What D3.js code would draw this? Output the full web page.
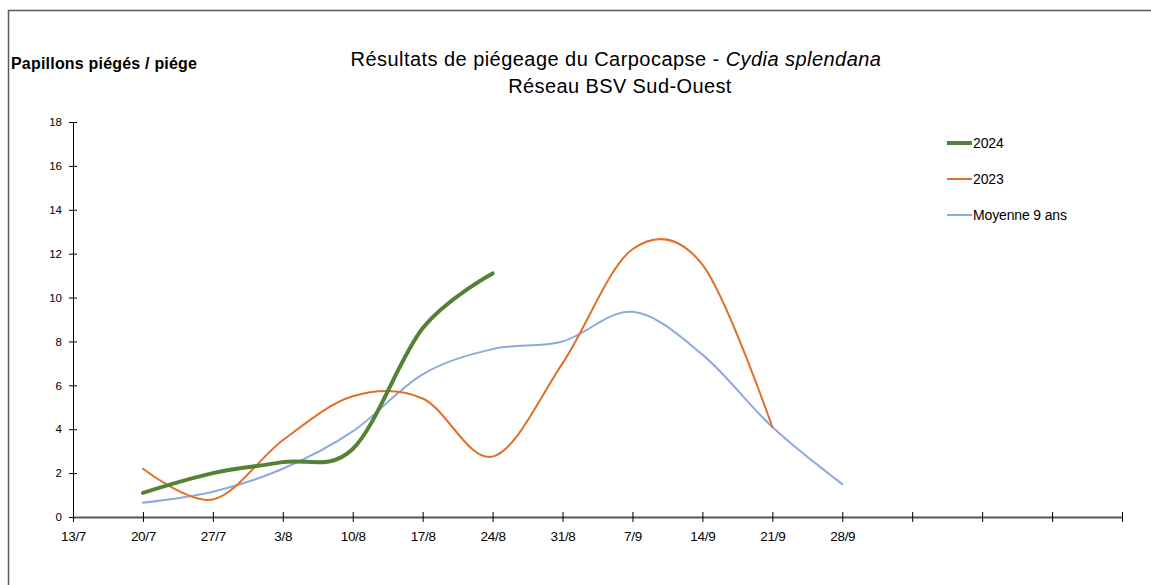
<!DOCTYPE html>
<html><head><meta charset="utf-8">
<script src="https://cdn.jsdelivr.net/npm/d3@7"></script>
<style>body{margin:0;background:#fff}svg{display:block;font-family:"Liberation Sans",Arial,sans-serif}</style>
</head><body>
<svg id="c" width="1151" height="585"></svg>
<script>
const categories = ["13/7","20/7","27/7","3/8","10/8","17/8","24/8","31/8","7/9","14/9","21/9","28/9","","","",""];
const s2024 = [null,1.1,2.0,2.5,3.1,8.6,11.1,null,null,null,null,null,null,null,null,null];
const s2023 = [null,2.2,0.8,3.5,5.5,5.4,2.75,7.0,12.2,11.5,4.1,null,null,null,null,null];
const sMoy  = [null,0.65,1.15,2.2,3.9,6.5,7.65,8.0,9.35,7.4,4.1,1.5,null,null,null,null];
const yTicks = [0,2,4,6,8,10,12,14,16,18];
const seriesNames = ["2024","2023","Moyenne 9 ans"];
const colors = ["#548235","#E0702A","#8EA9DB"];
const widths = [4,2,2];

const svg = d3.select("#c");
svg.append("path").attr("d","M8.5,590 V10.5 H1160").attr("fill","none").attr("stroke","#595959").attr("stroke-width",1.5);

const x = d3.scalePoint().domain(d3.range(categories.length)).range([73,1122]);
const y = d3.scaleLinear().domain([0,18]).range([517,122]);

const ya = svg.append("g").attr("transform","translate(73,0)")
  .call(d3.axisLeft(y).tickValues(yTicks).tickSize(4).tickSizeOuter(0).tickPadding(7));
ya.select(".domain").attr("stroke","#000");
ya.selectAll(".tick line").attr("stroke","#000").attr("x2",4).attr("x1",-4);
ya.selectAll("text").attr("font-size",11.5).attr("fill","#000").attr("font-family","Liberation Sans, Arial, sans-serif");

const xa = svg.append("g").attr("transform","translate(0,517)")
  .call(d3.axisBottom(x).tickFormat(i=>categories[i]).tickSize(5).tickSizeOuter(0).tickPadding(9));
xa.select(".domain").attr("stroke","#595959").attr("stroke-width",2);
xa.selectAll(".tick line").attr("stroke","#000").attr("y1",-5).attr("y2",5);
xa.selectAll("text").attr("font-size",13.5).attr("letter-spacing","-0.3").attr("fill","#000").attr("font-family","Liberation Sans, Arial, sans-serif");

const line = d3.line().defined(d=>d!=null).x((d,i)=>x(i)).y(d=>y(d)).curve(d3.curveCardinal.tension(0));
const data = [sMoy, s2023, s2024];
const idx = [2,1,0];
data.forEach((s,k)=>{
  const j = idx[k];
  svg.append("path").datum(s).attr("d",line).attr("fill","none")
    .attr("stroke",colors[j]).attr("stroke-width",widths[j]).attr("stroke-linecap","round").attr("stroke-linejoin","round");
});

const lg = [143,179,215];
seriesNames.forEach((n,i)=>{
  svg.append("line").attr("x1",947).attr("x2",972).attr("y1",lg[i]).attr("y2",lg[i])
    .attr("stroke",colors[i]).attr("stroke-width",widths[i]);
  svg.append("text").attr("x",973).attr("y",lg[i]+5).attr("font-size",14).attr("letter-spacing","-0.15").text(n);
});

const t = svg.append("text").attr("x",616).attr("y",66).attr("text-anchor","middle").attr("font-size",20).attr("letter-spacing","0.45");
t.append("tspan").text("Résultats de piégeage du Carpocapse - ");
t.append("tspan").attr("font-style","italic").text("Cydia splendana");
svg.append("text").attr("x",620).attr("y",93).attr("text-anchor","middle").attr("font-size",20).attr("letter-spacing","0.4").text("Réseau BSV Sud-Ouest");
svg.append("text").attr("x",11).attr("y",69).attr("font-size",16).attr("font-weight","bold").attr("letter-spacing","0.2").text("Papillons piégés / piége");
</script>
</body></html>
